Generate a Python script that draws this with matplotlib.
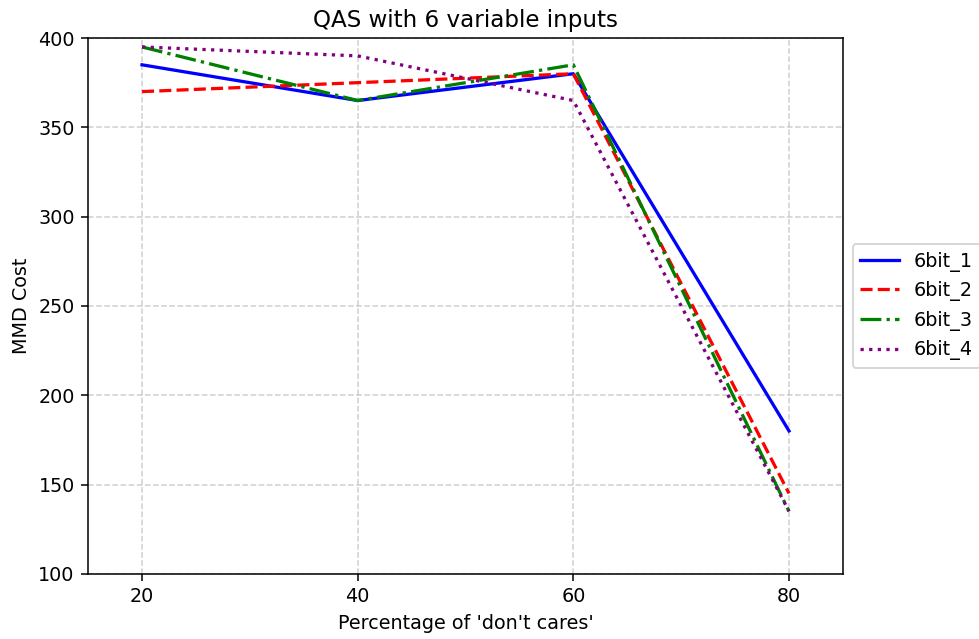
import matplotlib.pyplot as plt

# percentage of don't cares
x = [20, 40, 60, 80]

bit6_1 = [385, 365, 380, 180]
bit6_2 = [370, 375, 380, 145]
bit6_3 = [395, 365, 385, 135]
bit6_4 = [395, 390, 365, 135]

dpi = 138
fig = plt.figure(figsize=(979 / dpi, 639 / dpi), dpi=dpi)
ax = fig.add_axes([0.09, 0.102, 0.771, 0.8385])

lw = 1.7
ax.plot(x, bit6_1, color='blue', linestyle='-', linewidth=lw, label='6bit_1')
ax.plot(x, bit6_2, color='red', linestyle='--', linewidth=lw, label='6bit_2')
ax.plot(x, bit6_3, color='green', linestyle='-.', linewidth=lw, label='6bit_3')
ax.plot(x, bit6_4, color='purple', linestyle=':', linewidth=lw, label='6bit_4')

ax.set_xticks(x)
ax.set_ylim(100, 400)
ax.set_xlim(15, 85)
ax.grid(True, linestyle='--', alpha=0.6)
ax.set_title('QAS with 6 variable inputs')
ax.set_xlabel("Percentage of 'don't cares'")
ax.set_ylabel('MMD Cost')
ax.legend(loc='center left', bbox_to_anchor=(1.0, 0.5))

fig.savefig('out.png', dpi=dpi)
